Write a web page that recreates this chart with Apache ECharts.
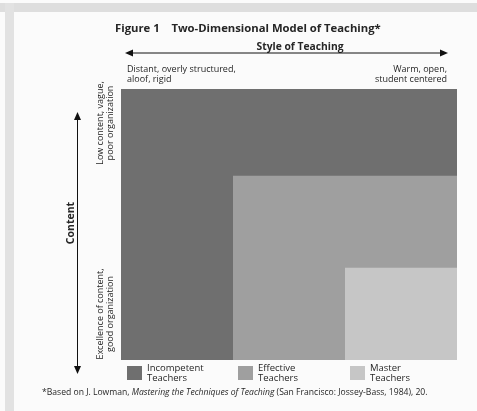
<!DOCTYPE html>
<html>
<head>
<meta charset="utf-8">
<script src="https://cdn.jsdelivr.net/npm/echarts@6/dist/echarts.min.js"></script>
<style>
html, body { margin: 0; padding: 0; background: #fbfbfb; }
#chart { width: 477px; height: 411px; }
</style>
</head>
<body>
<div id="chart"></div>
<script>
// groups of teachers, nested regions on the style (x) / content (y) plane
var groups = ['Incompetent Teachers', 'Effective Teachers', 'Master Teachers'];
var styleStart = [0, 1, 2];      // x from (0 = distant, 3 = warm)
var contentStart = [0, 0.96, 1.98]; // y from (0 = low content, 3 = excellence)
var scaleEnd = 3;
var colors = ['#6f6f6f', '#9f9f9f', '#c6c6c6'];

var fontFam = '"Open Sans", "Noto Sans", sans-serif';
var ink = '#262626';

var chart = echarts.init(document.getElementById('chart'));

function renderRect(params, api) {
	var p0 = api.coord([api.value(0), api.value(1)]);
	var p1 = api.coord([api.value(2), api.value(3)]);
	return {
		type: 'rect',
		shape: {
			x: Math.min(p0[0], p1[0]),
			y: Math.min(p0[1], p1[1]),
			width: Math.abs(p1[0] - p0[0]),
			height: Math.abs(p1[1] - p0[1])
		},
		style: { fill: api.visual('color') }
	};
}

var series = [];
for (var i = 0; i < groups.length; i++) {
	series.push({
		type: 'custom',
		name: groups[i],
		renderItem: renderRect,
		itemStyle: { color: colors[i] },
		data: [[styleStart[i], contentStart[i], scaleEnd, scaleEnd]],
		z: 2 + i
	});
}

var legendLeft = [127, 238, 350];
var legends = [];
for (var j = 0; j < groups.length; j++) {
	legends.push({
		data: [groups[j]],
		left: legendLeft[j],
		top: 363,
		padding: 0,
		itemWidth: 15,
		itemHeight: 14,
		icon: 'rect',
		selectedMode: false,
		formatter: function(name) { return name.replace(' ', '\n'); },
		textStyle: { fontFamily: fontFam, fontSize: 9.5, lineHeight: 10, color: ink }
	});
}

function arrowHead(x, y, dir) {
	// dir: 'l','r','u','d'
	var L = 8, W = 3.5, pts;
	if (dir == 'l') pts = [[x, y], [x + L, y - W], [x + L, y + W]];
	else if (dir == 'r') pts = [[x, y], [x - L, y - W], [x - L, y + W]];
	else if (dir == 'u') pts = [[x, y], [x - W, y + L], [x + W, y + L]];
	else pts = [[x, y], [x - W, y - L], [x + W, y - L]];
	return { type: 'polygon', shape: { points: pts }, style: { fill: '#111' } };
}

var option = {
	backgroundColor: '#fbfbfb',
	animation: false,
	grid: { left: 121, top: 89, width: 336, height: 271 },
	xAxis: { type: 'value', min: 0, max: scaleEnd, show: false },
	yAxis: { type: 'value', min: 0, max: scaleEnd, inverse: true, show: false },
	legend: legends,
	series: series,
	graphic: [
		// scanned page edges
		{ type: 'rect', shape: { x: 0, y: 3, width: 477, height: 9 }, style: { fill: '#dedede' }, silent: true },
		{ type: 'rect', shape: { x: 5, y: 3, width: 9, height: 408 }, style: { fill: '#e2e2e2' }, silent: true },
		{ type: 'text', left: 115, top: 23, style: { text: 'Figure 1    Two-Dimensional Model of Teaching*', font: 'bold 11.3px ' + fontFam, fill: ink } },
		{ type: 'text', x: 300, y: 47, style: { text: 'Style of Teaching', font: 'bold 10.3px ' + fontFam, fill: ink, align: 'center', verticalAlign: 'middle' } },
		{ type: 'line', shape: { x1: 128, y1: 53, x2: 445, y2: 53 }, style: { stroke: '#111', lineWidth: 1 } },
		arrowHead(125, 53, 'l'),
		arrowHead(448, 53, 'r'),
		{ type: 'text', x: 127, y: 74, style: { text: 'Distant, overly structured,\naloof, rigid', font: '9px ' + fontFam, lineHeight: 10, fill: ink, align: 'left', verticalAlign: 'middle' } },
		{ type: 'text', x: 447, y: 74, style: { text: 'Warm, open,\nstudent centered', font: '9px ' + fontFam, lineHeight: 10, fill: ink, align: 'right', verticalAlign: 'middle' } },
		{ type: 'line', shape: { x1: 77.5, y1: 115, x2: 77.5, y2: 371 }, style: { stroke: '#111', lineWidth: 1 } },
		arrowHead(77.5, 112, 'u'),
		arrowHead(77.5, 374, 'd'),
		{ type: 'text', x: 71, y: 223, rotation: Math.PI / 2, style: { text: 'Content', font: 'bold 10.5px ' + fontFam, fill: ink, align: 'center', verticalAlign: 'middle' } },
		{ type: 'text', x: 105, y: 123, rotation: Math.PI / 2, style: { text: 'Low content, vague,\npoor organization', font: '9px ' + fontFam, lineHeight: 10, fill: ink, align: 'center', verticalAlign: 'middle' } },
		{ type: 'text', x: 105, y: 314, rotation: Math.PI / 2, style: { text: 'Excellence of content,\ngood organization', font: '9px ' + fontFam, lineHeight: 10, fill: ink, align: 'center', verticalAlign: 'middle' } },
		{ type: 'text', left: 42, top: 388, style: {
			text: '*Based on J. Lowman, {i|Mastering the Techniques of Teaching} (San Francisco: Jossey-Bass, 1984), 20.',
			font: '8.6px ' + fontFam, fill: ink,
			rich: { i: { fontStyle: 'italic', fontSize: 8.6, fontFamily: fontFam, fill: ink } }
		} }
	]
};

chart.setOption(option);
</script>
</body>
</html>
